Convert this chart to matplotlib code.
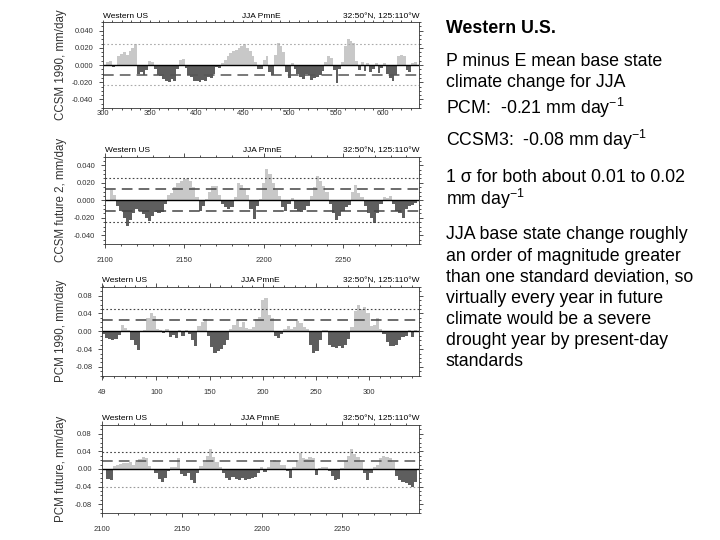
import numpy as np
import matplotlib
matplotlib.use("Agg")
import matplotlib.pyplot as plt
from matplotlib.ticker import MultipleLocator

plt.rcParams['font.family'] = ['Liberation Sans', 'DejaVu Sans']
plt.rcParams['mathtext.fontset'] = 'custom'
plt.rcParams['mathtext.rm'] = 'Liberation Sans'
plt.rcParams['mathtext.it'] = 'Liberation Sans'

# ---- data (one value per step years) ----
ccsm1990_start, ccsm1990_step = 305, 3
ccsm1990 = [0.004, 0.005, -0.002, -0.001, 0.010, 0.013, 0.015, 0.012, 0.016, 0.020,
            0.024, -0.010, -0.008, -0.011, -0.006, 0.005, 0.003, -0.004, -0.012, -0.013,
            -0.016, -0.018, -0.020, -0.016, -0.019, -0.004, 0.006, 0.007, -0.003, -0.012,
            -0.014, -0.018, -0.019, -0.020, -0.017, -0.019, -0.014, -0.015, -0.010, -0.002,
            -0.003, 0.002, 0.006, 0.010, 0.014, 0.016, 0.018, 0.020, 0.022, 0.024,
            0.020, 0.016, 0.010, 0.003, -0.005, -0.004, 0.006, 0.010, -0.008, -0.011,
            0.012, 0.026, 0.022, 0.015, -0.008, -0.015, 0.002, -0.004, -0.010, -0.014,
            -0.016, -0.010, -0.012, -0.017, -0.015, -0.014, -0.011, -0.007, 0.004, 0.010,
            0.008, -0.006, -0.021, -0.005, 0.003, 0.022, 0.030, 0.028, 0.026, 0.005,
            -0.006, 0.003, -0.007, 0.002, -0.008, -0.004, 0.002, -0.009, -0.003, 0.002,
            -0.010, -0.015, -0.019, -0.012, 0.010, 0.012, 0.011, -0.006, -0.008, 0.002,
            0.003]

ccsmfut_start, ccsmfut_step = 2104, 2
ccsmfut = [0.012, 0.006, -0.006, -0.012, -0.020, -0.029, -0.022, -0.014, -0.010, -0.012,
           -0.016, -0.020, -0.024, -0.018, -0.013, -0.015, -0.013, -0.004, 0.006, 0.008,
           0.015, 0.020, 0.022, 0.024, 0.025, 0.022, 0.015, 0.004, -0.012, -0.007,
           0.002, 0.010, 0.016, 0.016, 0.006, -0.004, -0.008, -0.010, -0.008, 0.004,
           0.020, 0.018, 0.013, 0.006, -0.010, -0.021, -0.006, 0.002, 0.020, 0.036,
           0.030, 0.020, 0.012, 0.005, -0.008, -0.012, -0.004, 0.003, -0.010, -0.012,
           -0.013, -0.011, -0.006, 0.005, 0.015, 0.028, 0.022, 0.016, 0.010, -0.004,
           -0.015, -0.022, -0.018, -0.012, -0.008, -0.005, 0.010, 0.018, 0.008, 0.004,
           -0.006, -0.014, -0.020, -0.026, -0.015, -0.004, 0.004, 0.003, 0.005, -0.004,
           -0.012, -0.015, -0.020, -0.010, -0.006, -0.005, -0.003]

pcm1990_start, pcm1990_step = 50, 3
pcm1990 = [-0.005, -0.016, -0.018, -0.020, -0.017, -0.008, 0.014, 0.008, 0.004, -0.020,
           -0.030, -0.042, -0.002, 0.002, 0.030, 0.040, 0.035, 0.006, 0.004, -0.004,
           0.005, -0.012, -0.008, -0.014, 0.004, -0.010, 0.003, -0.005, -0.020, -0.032,
           0.012, 0.020, 0.028, -0.010, -0.035, -0.048, -0.045, -0.040, -0.030, -0.020,
           0.005, 0.015, 0.026, 0.010, 0.020, 0.008, 0.005, 0.010, 0.028, 0.032,
           0.070, 0.075, 0.036, 0.030, -0.010, -0.014, -0.006, 0.005, 0.012, 0.006,
           0.010, 0.022, 0.018, 0.010, 0.005, -0.030, -0.048, -0.045, -0.020, 0.003,
           0.002, -0.030, -0.036, -0.038, -0.032, -0.038, -0.030, -0.018, 0.010, 0.045,
           0.058, 0.050, 0.055, 0.040, 0.012, 0.015, 0.030, 0.006, -0.005, -0.025,
           -0.032, -0.034, -0.030, -0.020, -0.012, -0.010, 0.003, -0.012, 0.002]

pcmfut_start, pcmfut_step = 2104, 2
pcmfut = [-0.022, -0.024, 0.006, 0.010, 0.012, 0.014, 0.013, 0.015, 0.010, 0.015,
          0.022, 0.028, 0.024, 0.006, -0.003, -0.010, -0.022, -0.029, -0.020, -0.004,
          0.004, 0.005, 0.024, -0.012, -0.016, -0.010, -0.025, -0.032, -0.010, 0.006,
          0.015, 0.030, 0.045, 0.028, 0.015, 0.004, -0.010, -0.020, -0.024, -0.018,
          -0.022, -0.025, -0.020, -0.024, -0.022, -0.020, -0.018, -0.008, 0.004, -0.006,
          0.004, 0.015, 0.020, 0.018, 0.008, 0.010, -0.005, -0.020, 0.005, 0.020,
          0.036, 0.025, 0.022, 0.028, 0.024, -0.014, 0.003, 0.005, 0.004, -0.005,
          -0.015, -0.026, -0.022, 0.002, 0.018, 0.030, 0.045, 0.035, 0.028, 0.015,
          -0.008, -0.024, -0.010, 0.004, 0.010, 0.025, 0.030, 0.028, 0.025, 0.015,
          -0.015, -0.025, -0.030, -0.032, -0.036, -0.040, -0.030]

ylabels = ['CCSM 1990, mm/day', 'CCSM future 2, mm/day', 'PCM 1990, mm/day', 'PCM future, mm/day']
# reference lines: (value, style, color)
reflines = [
    [(0.024, ':', '#aaaaaa'), (-0.023, ':', '#aaaaaa'), (-0.011, '--', '#555555')],
    [(0.025, ':', '#444444'), (-0.025, ':', '#444444'), (0.0125, '--', '#444444'), (-0.012, '--', '#444444')],
    [(0.051, ':', '#444444'), (0.026, '--', '#444444')],
    [(0.038, ':', '#444444'), (-0.040, ':', '#999999'), (0.019, '--', '#555555')],
]

panels = [
    dict(start=ccsm1990_start, step=ccsm1990_step, vals=ccsm1990, xlim=(300, 639), xticks=[300, 350, 400, 450, 500, 550, 600],
         ylim=0.05, yticks=[-0.04, -0.02, 0, 0.02, 0.04], fmt='%.3f', rect=[0.143, 0.800, 0.439, 0.159], xpad=0.5, xlen=1.2),
    dict(start=ccsmfut_start, step=ccsmfut_step, vals=ccsmfut, xlim=(2100, 2298), xticks=[2100, 2150, 2200, 2250],
         ylim=0.05, yticks=[-0.04, -0.02, 0, 0.02, 0.04], fmt='%.3f', rect=[0.146, 0.548, 0.436, 0.162], xpad=6.5, xlen=3),
    dict(start=pcm1990_start, step=pcm1990_step, vals=pcm1990, xlim=(49, 347), xticks=[49, 100, 150, 200, 250, 300],
         ylim=0.1, yticks=[-0.08, -0.04, 0, 0.04, 0.08], fmt='%.2f', rect=[0.142, 0.304, 0.440, 0.165], xpad=6.5, xlen=3),
    dict(start=pcmfut_start, step=pcmfut_step, vals=pcmfut, xlim=(2100, 2298), xticks=[2100, 2150, 2200, 2250],
         ylim=0.1, yticks=[-0.08, -0.04, 0, 0.04, 0.08], fmt='%.2f', rect=[0.141, 0.050, 0.441, 0.163], xpad=6.5, xlen=3),
]

fig = plt.figure(figsize=(7.2, 5.4), dpi=100)

for i, p in enumerate(panels):
    ax = fig.add_axes(p['rect'])
    vals = np.array(p['vals'])
    years = p['start'] + p['step'] * np.arange(len(vals))
    colors = np.where(vals >= 0, '#c8c8c8', '#5e5e5e')
    ax.bar(years, vals, width=p['step'], color=colors, linewidth=0)
    ax.axhline(0, color='black', lw=1.0)
    for val, ls, col in reflines[i]:
        if ls == '--':
            ax.axhline(val, color=col, lw=1.1, ls=(0, (7, 4)))
        else:
            ax.axhline(val, color=col, lw=0.8, ls=(0, (1.5, 2)))
    ax.set_xlim(*p['xlim'])
    ax.set_ylim(-p['ylim'], p['ylim'])
    ax.set_xticks(p['xticks'])
    ax.set_xticklabels([str(t) for t in p['xticks']])
    ax.set_yticks(p['yticks'])
    ax.set_yticklabels([p['fmt'] % t for t in p['yticks']])
    ax.yaxis.set_minor_locator(MultipleLocator(p['ylim'] / 10))
    ax.xaxis.set_minor_locator(MultipleLocator(10))
    ax.tick_params(which='both', direction='out', top=True, right=True, labelsize=5.5,
                   colors='#333333', width=0.6)
    ax.tick_params(which='major', length=3)
    ax.tick_params(which='minor', length=1.5)
    ax.tick_params(axis='y', which='major', pad=4)
    ax.tick_params(axis='x', which='major', pad=p['xpad'], length=p['xlen'])
    for s in ax.spines.values():
        s.set_linewidth(0.6)
        s.set_color('#333333')
    ax.text(0.0, 1.03, 'Western US', transform=ax.transAxes, fontsize=6, ha='left', va='bottom')
    ax.text(0.5, 1.03, 'JJA PmnE', transform=ax.transAxes, fontsize=6, ha='center', va='bottom')
    ax.text(1.0, 1.03, '32:50\u00b0N, 125:110\u00b0W', transform=ax.transAxes, fontsize=6, ha='right', va='bottom')
    y_center = p['rect'][1] + p['rect'][3] / 2
    fig.text(61 / 720, y_center, ylabels[i], rotation=90, fontsize=8.3, ha='center', va='center', color='#333333')

# ---- right-hand text (baselines in pixels from top) ----
tx = 446 / 720
fs = 12.8
lines = [
    (33, 'Western U.S.', 'bold'),
    (66, 'P minus E mean base state', 'normal'),
    (87, 'climate change for JJA', 'normal'),
    (114, 'PCM:  -0.21 mm day$^{-1}$', 'normal'),
    (146, 'CCSM3:  -0.08 mm day$^{-1}$', 'normal'),
    (182, '1 \u03c3 for both about 0.01 to 0.02', 'normal'),
    (205, 'mm day$^{-1}$', 'normal'),
    (239, 'JJA base state change roughly', 'normal'),
    (261, 'an order of magnitude greater', 'normal'),
    (282, 'than one standard deviation, so', 'normal'),
    (303, 'virtually every year in future', 'normal'),
    (324, 'climate would be a severe', 'normal'),
    (345, 'drought year by present-day', 'normal'),
    (366, 'standards', 'normal'),
]
for ypx, s, w in lines:
    fig.text(tx, 1 - ypx / 540, s, fontsize=fs, fontweight=w, ha='left', va='baseline')

fig.savefig('out.png', dpi=100)
